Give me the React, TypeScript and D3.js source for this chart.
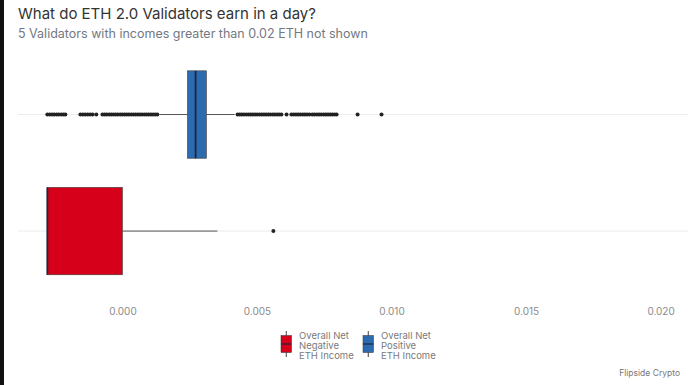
import * as d3 from 'd3'
import { FC, useEffect, useRef } from 'react'

// categories, bottom to top (ggplot order)
const categories = ['Overall Net Negative ETH Income', 'Overall Net Positive ETH Income']
const legendLines = [
  ['Overall Net', 'Negative', 'ETH Income'],
  ['Overall Net', 'Positive', 'ETH Income'],
]
const colors = ['#d7001b', '#2d6bb1']

// box stats per category (ETH per day)
const lowerWhisker = [-0.00281, 0.00136]
const q1 = [-0.00281, 0.0024]
const median = [-0.00281, 0.0027]
const q3 = [-0.00002, 0.0031]
const upperWhisker = [0.00351, 0.00415]

// outliers
const negativeOutliers = [0.00559]
const positiveOutliers = [
  -0.00281, -0.00272, -0.00263, -0.00255, -0.00246, -0.00238, -0.00229, -0.00221, -0.00214,
  -0.00158, -0.00149, -0.0014, -0.00131, -0.00122, -0.00113, -0.00099,
  -0.00076, -0.00068, -0.0006, -0.00051, -0.00043, -0.00035, -0.00027, -0.00019, -0.0001,
  -0.00002, 0.00006, 0.00014, 0.00022, 0.00031, 0.00039, 0.00047, 0.00055, 0.00063, 0.00071,
  0.0008, 0.00088, 0.00096, 0.00104, 0.00112, 0.0012, 0.00128,
  0.00426, 0.00434, 0.00442, 0.0045, 0.00459, 0.00467, 0.00475, 0.00483, 0.00491, 0.00499,
  0.00508, 0.00516, 0.00524, 0.00532, 0.0054, 0.00548, 0.00557, 0.00565, 0.00573, 0.00581,
  0.00589, 0.00608,
  0.00626, 0.00634, 0.00643, 0.00651, 0.00659, 0.00668, 0.00676, 0.00684, 0.00693,
  0.00704, 0.00712, 0.00721, 0.00729, 0.00737, 0.00746, 0.00754, 0.00762, 0.0077, 0.00778,
  0.00786, 0.00794, 0.00872, 0.00961,
]
const outliers = [negativeOutliers, positiveOutliers]

const xTicks = [0, 0.005, 0.01, 0.015, 0.02]

const title = 'What do ETH 2.0 Validators earn in a day?'
const subtitle = '5 Validators with incomes greater than 0.02 ETH not shown'
const caption = 'Flipside Crypto'

const width = 696
const height = 385
const font = 'Inter, "Noto Sans", sans-serif'

const App: FC = () => {
  const svgRef = useRef<SVGSVGElement>(null)

  useEffect(() => {
    const svg = d3.select(svgRef.current)
    svg.selectAll('*').remove()

    svg.append('rect').attr('width', width).attr('height', height).attr('fill', '#fff')
    // dark strip on the left edge
    svg.append('rect').attr('width', 4).attr('height', height).attr('fill', '#111')

    const panel = { left: 18, right: 688, top: 44.6, bottom: 301 }

    const x = d3.scaleLinear().domain([-0.0039, 0.021]).range([panel.left, panel.right])
    const y = d3
      .scalePoint<string>()
      .domain([...categories].reverse())
      .range([panel.top, panel.bottom])
      .padding(0.6)
    const boxH = y.step() * 0.75

    // titles
    svg
      .append('text')
      .attr('x', 18)
      .attr('y', 19)
      .text(title)
      .style('font-family', font)
      .style('font-size', '15px')
      .style('fill', '#333')
    svg
      .append('text')
      .attr('x', 18)
      .attr('y', 38)
      .text(subtitle)
      .style('font-family', font)
      .style('font-size', '12.5px')
      .style('fill', '#737882')

    // grid
    svg
      .append('g')
      .selectAll('line')
      .data(categories)
      .enter()
      .append('line')
      .attr('x1', panel.left)
      .attr('x2', panel.right)
      .attr('y1', (d) => y(d) as number)
      .attr('y2', (d) => y(d) as number)
      .attr('stroke', '#ececec')
      .attr('stroke-width', 1)

    // x axis labels
    svg
      .append('g')
      .selectAll('text')
      .data(xTicks)
      .enter()
      .append('text')
      .attr('x', (d) => x(d))
      .attr('y', 315)
      .text((d) => d3.format('.3f')(d))
      .style('text-anchor', 'middle')
      .style('font-family', font)
      .style('font-size', '10px')
      .style('fill', '#8a8a8a')

    // boxes
    categories.forEach((c, i) => {
      const cy = y(c) as number
      const g = svg.append('g')
      g.append('line')
        .attr('x1', x(lowerWhisker[i]))
        .attr('x2', x(q1[i]))
        .attr('y1', cy)
        .attr('y2', cy)
        .attr('stroke', '#555')
      g.append('line')
        .attr('x1', x(q3[i]))
        .attr('x2', x(upperWhisker[i]))
        .attr('y1', cy)
        .attr('y2', cy)
        .attr('stroke', '#555')
      g.append('rect')
        .attr('x', x(q1[i]))
        .attr('y', cy - boxH / 2)
        .attr('width', x(q3[i]) - x(q1[i]))
        .attr('height', boxH)
        .attr('fill', colors[i])
        .attr('stroke', '#3a3a3a')
        .attr('stroke-width', 0.6)
      g.append('line')
        .attr('x1', x(median[i]))
        .attr('x2', x(median[i]))
        .attr('y1', cy - boxH / 2)
        .attr('y2', cy + boxH / 2)
        .attr('stroke', '#1b2640')
        .attr('stroke-width', 1.8)
      g.selectAll('circle')
        .data(outliers[i])
        .enter()
        .append('circle')
        .attr('cx', (d) => x(d))
        .attr('cy', cy)
        .attr('r', 2)
        .attr('fill', '#222')
    })

    // legend
    const keyX = [281, 363]
    const textX = [299, 381]
    categories.forEach((_, i) => {
      const g = svg.append('g')
      const kx = keyX[i]
      const kw = 10.5
      g.append('line')
        .attr('x1', kx + kw / 2)
        .attr('x2', kx + kw / 2)
        .attr('y1', 331)
        .attr('y2', 357)
        .attr('stroke', '#444')
      g.append('rect')
        .attr('x', kx)
        .attr('y', 335.5)
        .attr('width', kw)
        .attr('height', 17)
        .attr('fill', colors[i])
        .attr('stroke', '#333')
        .attr('stroke-width', 0.5)
      g.append('line')
        .attr('x1', kx)
        .attr('x2', kx + kw)
        .attr('y1', 344)
        .attr('y2', 344)
        .attr('stroke', '#1b2640')
        .attr('stroke-width', 1.2)
      legendLines[i].forEach((t, j) => {
        g.append('text')
          .attr('x', textX[i])
          .attr('y', 338.5 + j * 10)
          .text(t)
          .style('font-family', font)
          .style('font-size', '9.5px')
          .style('fill', '#7a7a7a')
      })
    })

    // caption
    svg
      .append('text')
      .attr('x', 680)
      .attr('y', 376)
      .text(caption)
      .style('text-anchor', 'end')
      .style('font-family', font)
      .style('font-size', '8.5px')
      .style('fill', '#777')
  }, [])

  return (
    <svg
      ref={svgRef}
      width={width}
      height={height}
      style={{ position: 'absolute', left: 0, top: 0 }}
    ></svg>
  )
}

export default App
